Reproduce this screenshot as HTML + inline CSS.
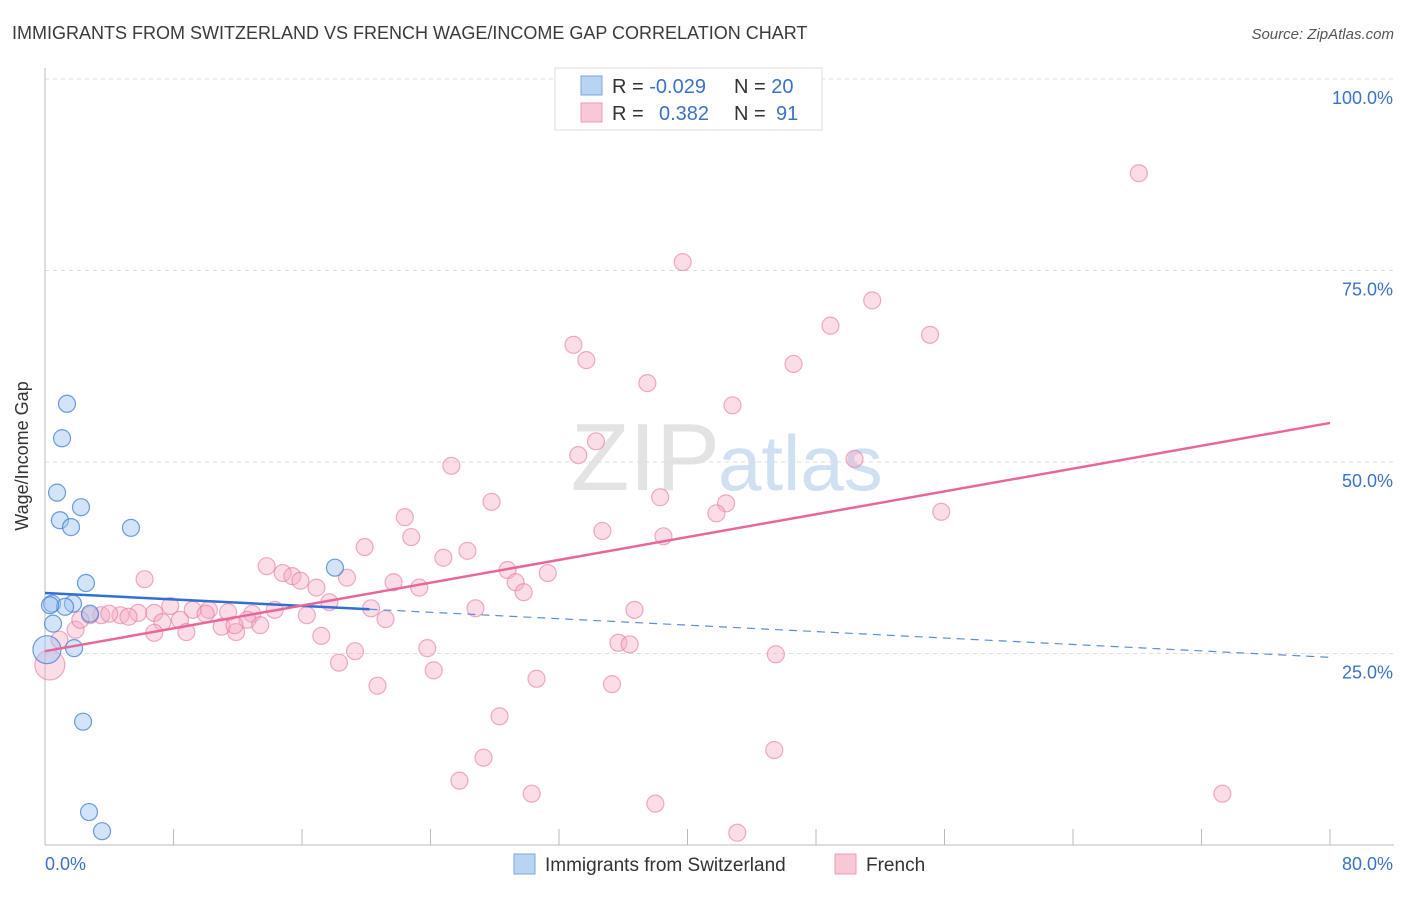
<!DOCTYPE html>
<html><head><meta charset="utf-8"><style>
body{margin:0;background:#fff;font-family:"Liberation Sans",sans-serif;}
svg text{font-family:"Liberation Sans",sans-serif;}
</style></head><body>
<svg id="chart" width="1406" height="892" xmlns="http://www.w3.org/2000/svg">
<text x="12" y="39" font-size="18" fill="#3a3a3a">IMMIGRANTS FROM SWITZERLAND VS FRENCH WAGE/INCOME GAP CORRELATION CHART</text>
<text x="1394" y="39" font-size="15" fill="#555" font-style="italic" text-anchor="end">Source: ZipAtlas.com</text>
<text x="720" y="490" font-size="96" fill="#e3e3e3" text-anchor="end" font-family="Liberation Serif">ZIP</text>
<text x="718" y="490" font-size="78" fill="#cfe0f3">atlas</text>
<g id="grid"></g>
<g id="axes"></g>
<g id="pts"></g>
<g id="lines"></g>
<text x="28" y="456" font-size="18" fill="#333" text-anchor="middle" transform="rotate(-90 28 456)">Wage/Income Gap</text>
<g>
<rect x="555" y="68" width="267" height="62" fill="#fff" stroke="#ddd"/>
<rect x="581" y="76" width="21" height="19" fill="#b9d3f3" stroke="#7aa7e0"/>
<rect x="581" y="103" width="21" height="19" fill="#f9c8d7" stroke="#eb9ab3"/>
<text x="612" y="93" font-size="20" fill="#333">R = <tspan fill="#3a72c8">-0.029</tspan></text>
<text x="734" y="93" font-size="20" fill="#333">N = <tspan fill="#3a72c8">20</tspan></text>
<text x="612" y="120" font-size="20" fill="#333">R = <tspan fill="#3a72c8" x="659">0.382</tspan></text>
<text x="734" y="120" font-size="20" fill="#333">N = <tspan fill="#3a72c8" x="776">91</tspan></text>
</g>
<g>
<rect x="514" y="854" width="21" height="20" fill="#b9d3f3" stroke="#7aa7e0"/>
<text x="545" y="871" font-size="19" fill="#333">Immigrants from Switzerland</text>
<rect x="835" y="854" width="21" height="20" fill="#f9c8d7" stroke="#eb9ab3"/>
<text x="866" y="871" font-size="19" fill="#333">French</text>
</g>
</svg>
<script>
const yTicks=[25,50,75,100];
const yTickLabels=["25.0%","50.0%","75.0%","100.0%"];
const xTicks=[0,8,16,24,32,40,48,56,64,72,80];
const xEndLabels=["0.0%","80.0%"];
const swissX=[1.37,1.06,0.75,2.24,0.93,1.62,5.35,2.55,18.05,0.44,1.74,1.25,0.5,1.81,2.37,2.74,3.55,0.12,0.31,2.8];
const swissY=[57.6,53.1,46.0,44.1,42.4,41.5,41.4,34.2,36.2,31.5,31.5,31.1,28.9,25.7,16.1,4.3,1.8,25.5,31.3,30.2];
const swissBig=[17];
const frenchX=[68.1,39.7,51.5,48.9,55.1,32.9,33.7,46.6,37.5,42.8,34.3,33.2,50.4,25.3,38.3,27.8,42.4,41.8,55.8,22.4,34.7,22.8,38.5,19.9,24.8,26.3,13.8,6.2,14.8,15.4,15.9,18.8,28.8,31.3,16.9,21.7,23.3,29.3,29.8,17.7,20.3,26.8,36.7,7.8,9.2,10.2,11.4,12.9,14.3,16.3,5.8,4.7,3.5,2.8,4.0,5.2,6.8,7.3,8.4,10.0,11.0,11.9,12.6,13.4,8.8,6.8,11.8,17.2,21.2,23.8,19.3,35.7,36.4,45.5,18.3,24.2,20.7,30.6,35.3,28.3,27.3,45.4,25.8,30.3,38.0,73.3,43.1,1.9,0.9,0.3,2.2];
const frenchY=[87.7,76.1,71.1,67.8,66.6,65.3,63.3,62.8,60.3,57.4,52.7,50.9,50.4,49.5,45.4,44.8,44.6,43.3,43.5,42.8,41.0,40.2,40.3,38.9,37.5,38.4,36.4,34.7,35.5,35.1,34.5,34.9,35.9,35.5,33.6,34.3,33.6,34.3,33.0,31.7,30.9,30.9,30.7,31.2,30.7,30.7,30.4,30.2,30.7,30.0,30.3,30.0,30.0,30.0,30.2,29.8,30.3,29.1,29.4,30.2,28.5,27.8,29.4,28.7,27.8,27.7,28.7,27.3,29.5,25.7,25.3,26.4,26.2,24.9,23.8,22.8,20.8,21.7,21.0,16.8,11.4,12.4,8.4,6.7,5.4,6.7,1.6,28.1,26.8,23.5,29.4];
const frenchBig=[89];
const swissTrend=[32.9,24.5]; const swissSolidEnd=20.2;
const frenchTrend=[25.3,55.1];
const X0=45,X1=1330,Y0=845,Y100=79;
const sx=v=>X0+(v/80)*(X1-X0);
const sy=v=>Y0-(v/100)*(Y0-Y100);
const NS="http://www.w3.org/2000/svg";
function mk(t,a,p){const e=document.createElementNS(NS,t);for(const k in a)e.setAttribute(k,a[k]);p.appendChild(e);return e;}
const grid=document.getElementById('grid'),axes=document.getElementById('axes'),pts=document.getElementById('pts'),lines=document.getElementById('lines');
yTicks.forEach((t,i)=>{
 const g=mk('line',{x1:45,x2:1394,y1:sy(t),y2:sy(t),stroke:'#ddd','stroke-dasharray':'4,4'},grid);
 
 
 const l=mk('text',{x:1393,y:sy(t)+25,'font-size':18,fill:'#3a72c8','text-anchor':'end'},axes);
 l.textContent=yTickLabels[i];
 
 
});
const ya=mk('line',{x1:45,x2:45,y1:68,y2:845,stroke:'#bbb'},axes);


const xa=mk('line',{x1:45,x2:1394,y1:845,y2:845,stroke:'#bbb'},axes);


xTicks.forEach(t=>{
 const k=mk('line',{x1:sx(t),x2:sx(t),y1:829,y2:845,stroke:'#bbb'},axes);
 
 
});
const xl0=mk('text',{x:45,y:870,'font-size':18,fill:'#3a72c8'},axes);xl0.textContent=xEndLabels[0];


const xl1=mk('text',{x:1393,y:870,'font-size':18,fill:'#3a72c8','text-anchor':'end'},axes);xl1.textContent=xEndLabels[1];


frenchX.forEach((x,i)=>{
 const c=mk('circle',{cx:sx(x),cy:sy(frenchY[i]),r:frenchBig.includes(i)?15:8.5,fill:'rgba(246,170,195,0.4)',stroke:'rgba(232,120,157,0.6)','stroke-width':1.2},pts);
 
 
});
swissX.forEach((x,i)=>{
 const c=mk('circle',{cx:sx(x),cy:sy(swissY[i]),r:swissBig.includes(i)?14:8.5,fill:'rgba(160,195,240,0.45)',stroke:'rgba(60,125,215,0.75)','stroke-width':1.2},pts);
 
 
});
const bAt=v=>swissTrend[0]+(swissTrend[1]-swissTrend[0])*v/80;
const bs=mk('line',{x1:sx(0),y1:sy(bAt(0)),x2:sx(swissSolidEnd),y2:sy(bAt(swissSolidEnd)),stroke:'#2f6fd6','stroke-width':2.5},lines);


const bd=mk('line',{x1:sx(swissSolidEnd),y1:sy(bAt(swissSolidEnd)),x2:sx(80),y2:sy(bAt(80)),stroke:'#5b8ed8','stroke-width':1.2,'stroke-dasharray':'8,6'},lines);


const pl=mk('line',{x1:sx(0),y1:sy(frenchTrend[0]),x2:sx(80),y2:sy(frenchTrend[1]),stroke:'#e8679a','stroke-width':2.5},lines);


</script>
</body></html>
